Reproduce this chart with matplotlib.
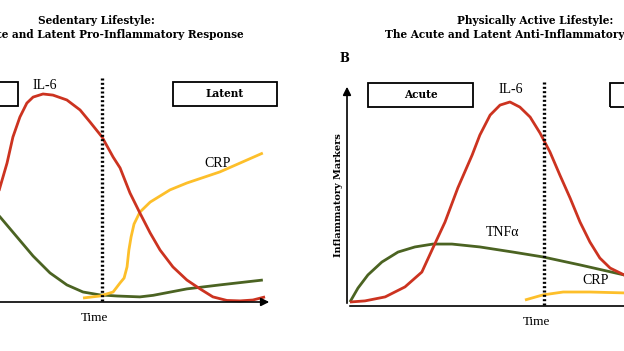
import matplotlib.pyplot as plt
from matplotlib.patches import Rectangle

# Curves (time units 0-10, marker level 0-10)
# Sedentary panel
sed_il6_t = [1.91, 2.32, 2.59, 2.78, 2.94, 3.13, 3.32, 3.49, 3.76, 4.03, 4.41, 4.77, 5.04, 5.37, 5.67,
             5.86, 6.13, 6.40, 6.68, 6.95, 7.30, 7.68, 8.04, 8.39, 8.77, 9.13, 9.48, 9.81]
sed_il6_v = [1.67, 3.60, 5.18, 6.26, 7.43, 8.33, 8.96, 9.23, 9.37, 9.32, 9.10, 8.65, 8.11, 7.43, 6.53,
             6.04, 4.91, 4.01, 3.11, 2.34, 1.58, 0.99, 0.59, 0.23, 0.07, 0.05, 0.09, 0.23]
sed_tnf_t = [1.77, 2.59, 3.05, 3.49, 3.95, 4.41, 4.85, 5.31, 5.78, 6.40, 6.76, 7.68, 8.58, 9.75]
sed_tnf_v = [5.27, 3.83, 2.93, 2.07, 1.31, 0.77, 0.45, 0.32, 0.27, 0.23, 0.30, 0.59, 0.77, 0.99]
sed_crp_t = [4.85, 5.31, 5.67, 5.86, 5.97, 6.05, 6.10, 6.16, 6.24, 6.40, 6.68, 7.22, 7.68, 8.58, 9.75]
sed_crp_v = [0.18, 0.27, 0.45, 0.86, 1.08, 1.58, 2.34, 2.93, 3.51, 4.05, 4.50, 5.05, 5.36, 5.86, 6.71]

# Active panel
act_il6_t = [0.08, 0.49, 1.04, 1.58, 2.04, 2.34, 2.67, 3.02, 3.41, 3.62, 3.90, 4.17, 4.44, 4.71,
             4.99, 5.26, 5.53, 5.80, 6.08, 6.35, 6.62, 6.89, 7.17, 7.55, 7.98]
act_il6_v = [0.18, 0.23, 0.41, 0.86, 1.53, 2.61, 3.78, 5.32, 6.80, 7.70, 8.60, 9.05, 9.19, 8.96,
             8.51, 7.79, 6.94, 5.90, 4.86, 3.78, 2.88, 2.16, 1.71, 1.40, 1.08]
act_tnf_t = [0.08, 0.30, 0.57, 0.95, 1.39, 1.85, 2.34, 2.86, 3.62, 4.52, 5.34, 6.35, 7.55, 8.26]
act_tnf_v = [0.18, 0.81, 1.40, 1.98, 2.43, 2.66, 2.79, 2.79, 2.66, 2.43, 2.21, 1.85, 1.40, 1.08]
act_crp_t = [4.85, 5.34, 5.89, 6.62, 7.55, 8.26]
act_crp_v = [0.27, 0.50, 0.63, 0.63, 0.59, 0.54]

phase_split = 5.37

red = '#cc3320'
green = '#4b6322'
yellow = '#fdbf2a'

title_font = dict(family='DejaVu Serif', weight='bold', size=7.6)
label_font = dict(family='Liberation Serif', size=10)

fig = plt.figure(figsize=(6.24, 3.51), dpi=100)

# the panels are cropped by the figure edges, like the original image
ax1 = fig.add_axes([-0.1522, 0.1396, 0.5881, 0.6325])
ax2 = fig.add_axes([0.5561, 0.1282, 0.5881, 0.6325])


def draw_panel(ax, il6, tnf, crp, boxes):
    ax.set_xlim(0, 10)
    ax.set_ylim(0, 10)
    ax.axis('off')
    ax.annotate('', xy=(10, 0), xytext=(0, 0), annotation_clip=False,
                arrowprops=dict(arrowstyle='-|>', color='black', lw=1.2, mutation_scale=12))
    ax.annotate('', xy=(0, 10), xytext=(0, 0), annotation_clip=False,
                arrowprops=dict(arrowstyle='-|>', color='black', lw=1.2, mutation_scale=12))
    line_kw = dict(lw=2.0, clip_on=False, solid_joinstyle='round', solid_capstyle='butt')
    ax.plot(tnf[0], tnf[1], color=green, **line_kw)
    ax.plot(crp[0], crp[1], color=yellow, **line_kw)
    ax.plot(il6[0], il6[1], color=red, **line_kw)
    ax.plot([phase_split, phase_split], [0.05, 10.2], color='black', lw=2.4,
            linestyle=(0, (0.6, 0.7)), clip_on=False)
    for x0, x1, y0, y1, name in boxes:
        ax.add_patch(Rectangle((x0, y0), x1 - x0, y1 - y0, fill=False, ec='black',
                               lw=1.3, clip_on=False))
        ax.text((x0 + x1) / 2, (y0 + y1) / 2, name, ha='center', va='center',
                clip_on=False, **title_font)
    ax.text(5.17, -0.72, 'Time', ha='center', va='center', family='Liberation Serif', size=9.5)


draw_panel(ax1, (sed_il6_t, sed_il6_v), (sed_tnf_t, sed_tnf_v), (sed_crp_t, sed_crp_v),
           [(0.22, 3.08, 8.83, 9.91, 'Acute'), (7.30, 10.14, 8.83, 9.91, 'Latent')])
draw_panel(ax2, (act_il6_t, act_il6_v), (act_tnf_t, act_tnf_v), (act_crp_t, act_crp_v),
           [(0.57, 3.43, 8.96, 10.05, 'Acute'), (7.17, 10.03, 8.96, 10.05, 'Latent')])

ax1.text(3.81, 9.77, 'IL-6', ha='center', va='center', **label_font)
ax1.text(8.53, 6.26, 'CRP', ha='center', va='center', **label_font)

ax2.text(4.47, 9.77, 'IL-6', ha='center', va='center', **label_font)
ax2.text(4.25, 3.29, 'TNF\u03b1', ha='center', va='center', **label_font)
ax2.text(6.76, 1.13, 'CRP', ha='center', va='center', **label_font)
ax2.text(-0.08, 11.17, 'B', ha='center', va='center', family='DejaVu Serif', weight='bold', size=8.5)
ax2.text(-0.22, 5.0, 'Inflammatory Markers', ha='center', va='center', rotation=90,
         family='DejaVu Serif', weight='bold', size=7)

fig.text(0.154, 0.943, 'Sedentary Lifestyle:', ha='center', va='center', **title_font)
fig.text(0.154, 0.903, 'The Acute and Latent Pro-Inflammatory Response', ha='center', va='center', **title_font)
fig.text(0.857, 0.943, 'Physically Active Lifestyle:', ha='center', va='center', **title_font)
fig.text(0.857, 0.903, 'The Acute and Latent Anti-Inflammatory Response', ha='center', va='center', **title_font)

fig.savefig('out.png', dpi=100)
